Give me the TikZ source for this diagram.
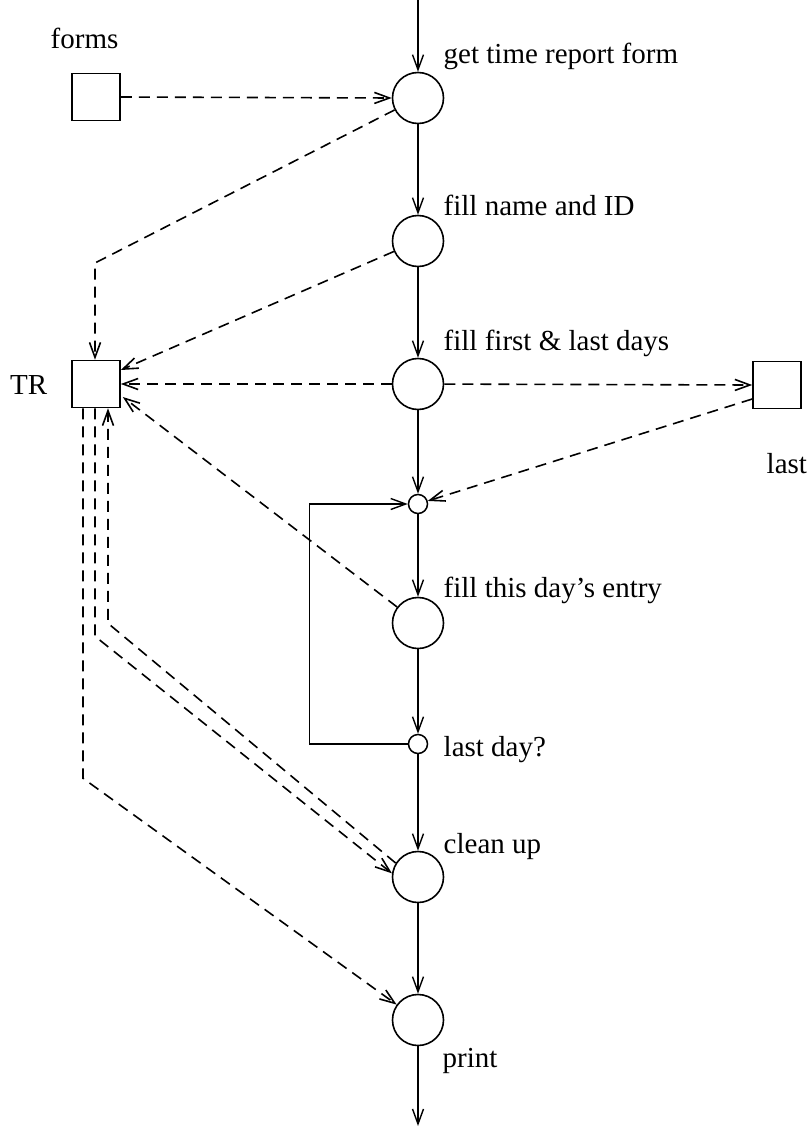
\documentclass[tikz,border=0pt]{standalone}
\usepackage{fontspec}
\setmainfont{Liberation Serif}
\usetikzlibrary{arrows.meta,calc}
\begin{document}
\begin{tikzpicture}[x=1pt,y=-1pt,
  font=\fontsize{29}{34}\selectfont,
  line width=1.4pt,
  >={Straight Barb[length=15pt,width=11pt]},
  proc/.style={circle,draw,line width=1.6pt,minimum size=51pt,inner sep=0pt},
  junc/.style={circle,draw,line width=1.5pt,minimum size=19pt,inner sep=0pt},
  store/.style={rectangle,draw,line width=1.6pt,minimum width=48pt,minimum height=47pt,inner sep=0pt},
  flow/.style={->},
  dep/.style={->,dash pattern=on 11pt off 7pt,line width=1.6pt},
  lab/.style={anchor=base west,inner sep=0pt}]
\useasboundingbox (0,0) rectangle (809,1127);
% nodes
\node[proc] (c1) at (418,98) {};
\node[proc] (c2) at (418,241) {};
\node[proc] (c3) at (418,384) {};
\node[junc] (s1) at (418,504) {};
\node[proc] (c4) at (418,623) {};
\node[junc] (s2) at (418,744) {};
\node[proc] (c5) at (418,877) {};
\node[proc] (c6) at (418,1020) {};
\node[store] (forms) at (96,97) {};
\node[store] (TR) at (96,384) {};
\node[store] (last) at (777,385) {};
\coordinate (top) at (418,0);
\coordinate (bot) at (418,1126);
\coordinate (k1) at (95,263);
% labels
\node[lab] (lforms) at (50,48) {forms};
\node[anchor=base east,inner sep=0pt] (lTR) at (48,394) {TR};
\node[lab] (llast) at (766,473) {last};
\node[lab] (l1) at (443,63) {get time report form};
\node[lab] (l2) at (443,215) {fill name and ID};
\node[lab] (l3) at (443,350) {fill first \& last days};
\node[lab] (l4) at (443,597) {fill this day’s entry};
\node[lab] (l5) at (443,756) {last day?};
\node[lab] (l6) at (443,853) {clean up};
\node[lab] (l7) at (442,1067) {print};
% control flow
\draw[flow] (top) -- (c1);
\draw[flow] (c1) -- (c2);
\draw[flow] (c2) -- (c3);
\draw[flow] (c3) -- (s1);
\draw[flow] (s1) -- (c4);
\draw[flow] (c4) -- (s2);
\draw[flow] (s2) -- (c5);
\draw[flow] (c5) -- (c6);
\draw[flow] (c6) -- (bot);
\draw[flow] (s2.west) -- ++(-98,0) |- (s1.west);
% data flow
\draw[dep] (forms.east) -- (c1.west);
\draw[dep] (c1) -- (k1) -- (k1 |- TR.north);
\draw[dep] (c2) -- ($(TR.east)+(0,-14)$);
\draw[dep] (c3) -- (TR.east);
\draw[dep] (c3) -- (last.west);
\draw[dep] ($(last.west)+(0,14)$) -- (s1);
\draw[dep] (c4) -- ($(TR.east)+(2,13)$);
\draw[dep] ($(TR.south)+(-13,0)$) -- ++(0,370) -- (c6);
\draw[dep] ($(TR.south)+(-1,0)$) -- ++(0,228) -- (c5.172);
\draw[dep] (c5.148) -- ($(TR.south)+(12,215)$) -- ($(TR.south)+(12,0)$);
\end{tikzpicture}
\end{document}
